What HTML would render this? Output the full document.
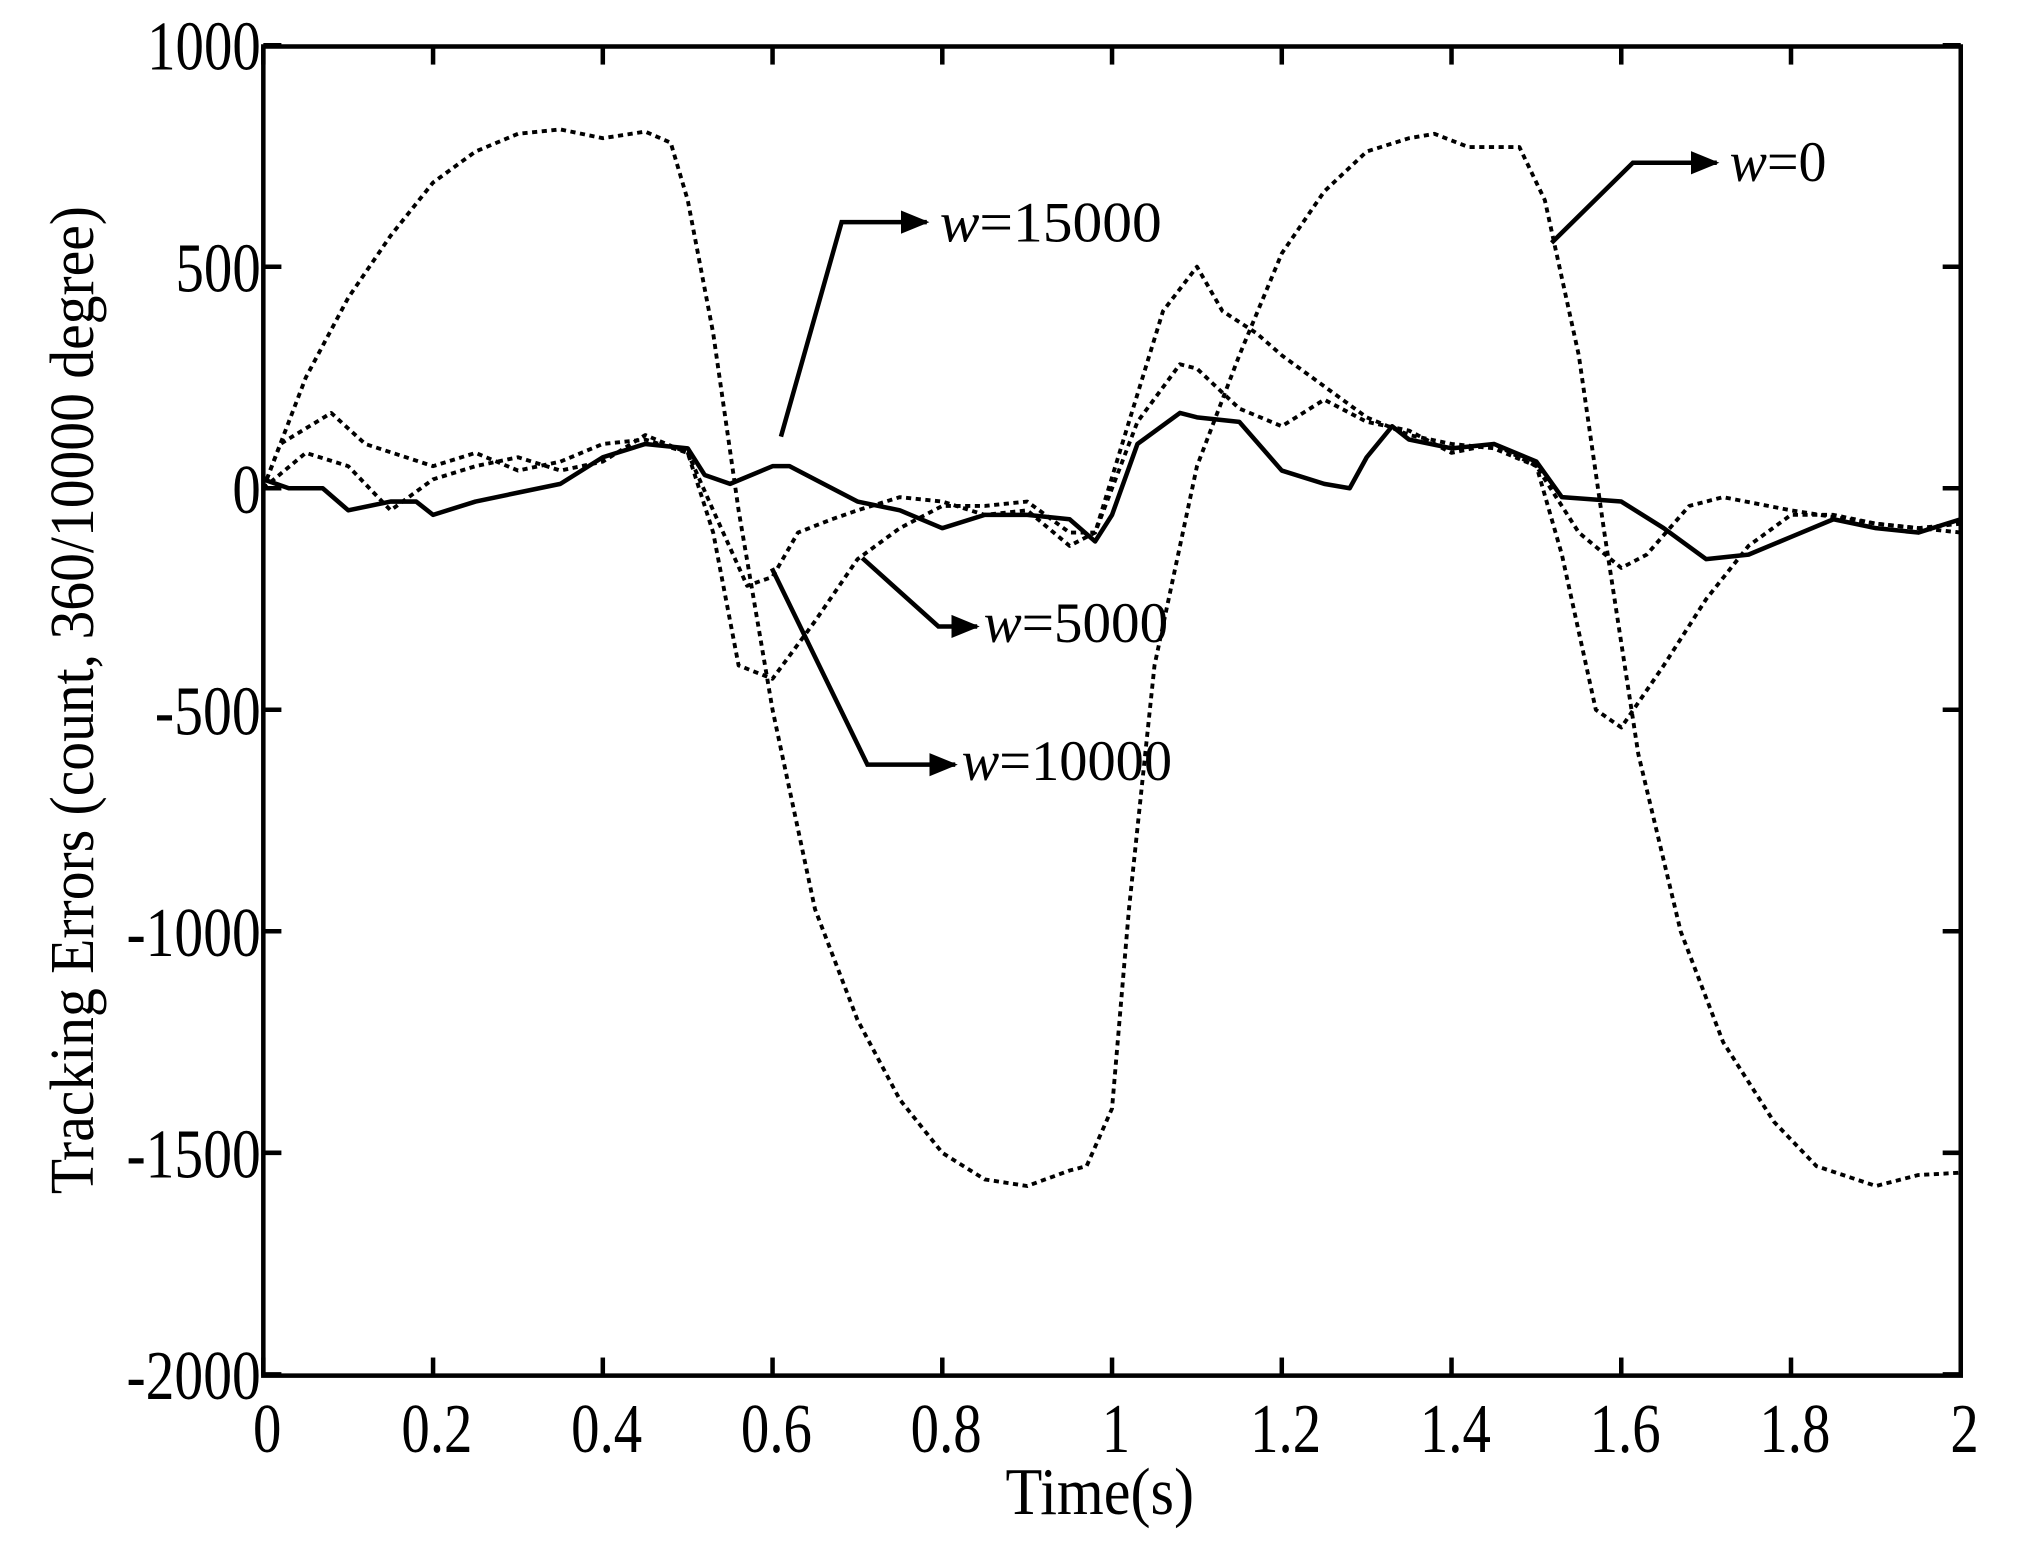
<!DOCTYPE html>
<html><head><meta charset="utf-8"><style>
html,body{margin:0;padding:0;background:#fff;}
svg{display:block;}
text{font-family:"Liberation Serif",serif;fill:#000;}
</style></head><body>
<svg id="s" width="2024" height="1550" viewBox="0 0 1568 1200" preserveAspectRatio="none" xmlns="http://www.w3.org/2000/svg">
<defs><marker id="ar" markerWidth="24" markerHeight="20" refX="20" refY="10" orient="auto" markerUnits="userSpaceOnUse"><path d="M0,1 L22,10 L0,19 Z" fill="#000"/></marker></defs>
<rect x="204" y="36" width="1315" height="1029" fill="none" stroke="#000" stroke-width="3.5"/>
<g id="ticks" stroke="#000" stroke-width="3.5"></g>
<g id="labels" font-size="54"></g>
<g id="series" fill="none" stroke="#000"></g>
<text x="852" y="1172" font-size="52" textLength="146" lengthAdjust="spacingAndGlyphs" text-anchor="middle">Time(s)</text>
<text transform="translate(72,542) rotate(-90)" font-size="48" textLength="765" lengthAdjust="spacingAndGlyphs" text-anchor="middle">Tracking Errors (count, 360/10000 degree)</text>
<g stroke="#000" stroke-width="3.5" fill="none">
<polyline points="605,338 652,172 718,172" marker-end="url(#ar)"/>
<polyline points="1202,188 1265,126 1330,126" marker-end="url(#ar)"/>
<polyline points="668,432 727,485 757,485" marker-end="url(#ar)"/>
<polyline points="598,440 672,592 740,592" marker-end="url(#ar)"/>
</g>
<g font-size="44">
<text x="728" y="187" textLength="172" lengthAdjust="spacingAndGlyphs"><tspan font-style="italic">w</tspan>=15000</text>
<text x="1340" y="140" textLength="75" lengthAdjust="spacingAndGlyphs"><tspan font-style="italic">w</tspan>=0</text>
<text x="762" y="497" textLength="143" lengthAdjust="spacingAndGlyphs"><tspan font-style="italic">w</tspan>=5000</text>
<text x="745" y="604" textLength="163" lengthAdjust="spacingAndGlyphs"><tspan font-style="italic">w</tspan>=10000</text>
</g>
</svg>
<script>
var ns="http://www.w3.org/2000/svg";
function X(t){return 204+657.5*t;} function Y(v){return 378-0.343*v;}
var tk=document.getElementById('ticks'),lb=document.getElementById('labels');
function el(p,n,a,txt){var e=document.createElementNS(ns,n);for(var k in a)e.setAttribute(k,a[k]);if(txt!=null)e.textContent=txt;p.appendChild(e);return e;}
function cw(s){var w=0;for(var c of s)w+=(c=='.')?11:(c=='-'?16:22);return w;}
for(var i=0;i<=10;i++){var t=i*0.2,x=X(t);
 el(tk,'line',{x1:x,y1:1065,x2:x,y2:1051});el(tk,'line',{x1:x,y1:36,x2:x,y2:50});
 var s=(i==0)?'0':(i%5==0?String(i/5):(t.toFixed(1)));
 el(lb,'text',{x:x+3,y:1124,'text-anchor':'middle',textLength:cw(s),lengthAdjust:'spacingAndGlyphs'},s);}
for(var v=-2000;v<=1000;v+=500){var y=Y(v);
 el(tk,'line',{x1:204,y1:y,x2:218,y2:y});el(tk,'line',{x1:1519,y1:y,x2:1505,y2:y});
 var s=String(v);
 el(lb,'text',{x:202,y:y+19,'text-anchor':'end',textLength:cw(s),lengthAdjust:'spacingAndGlyphs'},s);}
var S={
w0:[0,0,0.05,250,0.1,430,0.15,570,0.2,690,0.25,760,0.3,800,0.35,810,0.4,790,0.45,805,0.48,780,0.5,650,0.53,350,0.56,-50,0.6,-500,0.65,-950,0.7,-1200,0.75,-1380,0.8,-1500,0.85,-1560,0.9,-1575,0.95,-1540,0.97,-1530,1.0,-1400,1.02,-950,1.05,-400,1.1,50,1.15,300,1.2,530,1.25,670,1.3,760,1.35,790,1.38,800,1.42,770,1.48,770,1.51,650,1.55,300,1.58,-100,1.62,-600,1.67,-1000,1.72,-1250,1.78,-1430,1.83,-1530,1.9,-1575,1.95,-1550,2.0,-1545],
w5:[0,0,0.02,100,0.08,170,0.12,100,0.2,50,0.25,80,0.3,40,0.35,60,0.4,100,0.45,110,0.5,80,0.53,-100,0.56,-400,0.6,-430,0.65,-300,0.7,-160,0.75,-90,0.8,-40,0.85,-40,0.9,-30,0.95,-100,0.98,-100,1.02,150,1.06,400,1.1,500,1.13,400,1.17,350,1.2,300,1.25,230,1.3,160,1.35,120,1.4,100,1.45,90,1.5,50,1.53,-150,1.57,-500,1.6,-540,1.65,-400,1.7,-250,1.75,-130,1.8,-60,1.85,-60,1.9,-80,1.95,-90,2.0,-80],
w10:[0,0,0.05,80,0.1,50,0.15,-50,0.2,20,0.25,50,0.3,70,0.35,40,0.4,60,0.45,120,0.5,80,0.53,-50,0.57,-220,0.6,-200,0.63,-100,0.67,-70,0.7,-50,0.75,-20,0.8,-30,0.85,-60,0.9,-50,0.95,-130,0.98,-100,1.03,150,1.08,280,1.1,270,1.15,180,1.2,140,1.25,200,1.3,150,1.35,130,1.4,80,1.45,100,1.5,50,1.55,-100,1.6,-180,1.63,-150,1.68,-40,1.72,-20,1.8,-50,1.9,-80,2.0,-100],
w15:[0,20,0.03,0,0.07,0,0.1,-50,0.15,-30,0.18,-30,0.2,-60,0.25,-30,0.3,-10,0.35,10,0.4,70,0.45,100,0.5,90,0.52,30,0.55,10,0.6,50,0.62,50,0.66,10,0.7,-30,0.75,-50,0.8,-90,0.85,-60,0.9,-60,0.95,-70,0.98,-120,1.0,-60,1.03,100,1.08,170,1.1,160,1.15,150,1.2,40,1.25,10,1.28,0,1.3,70,1.33,140,1.35,110,1.4,90,1.45,100,1.5,60,1.53,-20,1.6,-30,1.65,-90,1.7,-160,1.75,-150,1.8,-110,1.85,-70,1.9,-90,1.95,-100,2.0,-70]};
var g=document.getElementById('series');
for(var k in S){var a=S[k],p=[];for(var i=0;i<a.length;i+=2)p.push(X(a[i]).toFixed(1)+','+Y(a[i+1]).toFixed(1));
 var at={points:p.join(' '),'stroke-width':k=='w15'?3.5:3,'stroke-linejoin':'round'};
 if(k!='w15'){at['stroke-dasharray']='4,3.5';}
 el(g,'polyline',at);}
</script>
</body></html>
